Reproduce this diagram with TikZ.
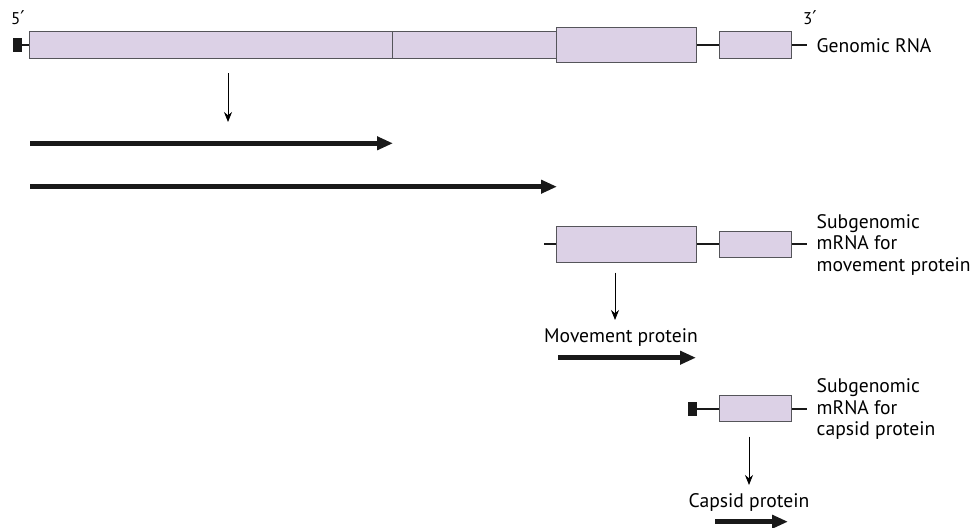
\documentclass[tikz,border=0pt]{standalone}
\usepackage{fontspec}
\setmainfont{PT Sans}
\newfontfamily\primefont{DejaVu Sans}
\newcommand{\prm}{{\primefont\fontsize{19}{19}\selectfont ′}}
\usetikzlibrary{arrows.meta}
\definecolor{boxfill}{RGB}{220,209,230}
\definecolor{boxdraw}{RGB}{85,85,90}
\definecolor{thin}{RGB}{60,60,60}
\tikzset{
  rnabox/.style={draw=boxdraw, fill=boxfill, line width=1pt, inner sep=0pt, rectangle},
  capbox/.style={fill=black!90, draw=none, inner sep=0pt, minimum width=9pt, minimum height=14pt},
  link/.style={black!90, line width=1.6pt},
  thinarrow/.style={thin, line width=0.9pt, -{Stealth[length=10pt,width=8pt]}},
  thickarrow/.style={black!90, line width=4.5pt, -{Triangle[length=16pt,width=13pt]}},
  lbl/.style={font=\fontsize{19.6}{21.5}\selectfont, inner sep=0pt, align=left},
  endlbl/.style={font=\fontsize{17}{18}\selectfont, inner sep=0pt},
}
\begin{document}
\begin{tikzpicture}[x=1pt,y=-1pt]
\useasboundingbox (0,0) rectangle (976,527);
% Genomic RNA
\node[capbox] (cap1) at (17,45) {};
\node[rnabox, minimum width=363pt, minimum height=26.5pt] (g1) at (210.5,45) {};
\node[rnabox, minimum width=165pt, minimum height=26.5pt] (g2) at (474.5,45) {};
\node[rnabox, minimum width=139.5pt, minimum height=35.5pt] (g3) at (626.5,45) {};
\node[rnabox, minimum width=72.5pt, minimum height=26.5pt] (g4) at (755.5,45) {};
\coordinate (g5) at (806.5,45);
\draw[link] (cap1.east) -- (g1.west);
\draw[link] (g3.east) -- (g4.west);
\draw[link] (g4.east) -- (g5);
\node[endlbl, anchor=west] (l5) at (11,18) {5\prm};
\node[endlbl, anchor=west] (l3) at (803,18) {3\prm};
\node[lbl, anchor=west] (lg) at (816.5,45.5) {Genomic RNA};
% translation arrow
\coordinate (t1s) at (228,73);
\coordinate (t1e) at (228,122);
\draw[thinarrow] (t1s) -- (t1e);
\coordinate (p1s) at (30,143.3);
\coordinate (p1e) at (393,143.3);
\draw[thickarrow] (p1s) -- (p1e);
\coordinate (p2s) at (30,186.7);
\coordinate (p2e) at (557,186.7);
\draw[thickarrow] (p2s) -- (p2e);
% Subgenomic mRNA for movement protein
\coordinate (m0) at (544,244);
\node[rnabox, minimum width=139.5pt, minimum height=35.5pt] (m1) at (626.5,244.5) {};
\node[rnabox, minimum width=72.5pt, minimum height=26pt] (m2) at (755.5,244.3) {};
\coordinate (m3) at (806.5,244);
\draw[link] (m0) -- (m1.west |- m0);
\draw[link] (m1.east |- m0) -- (m2.west |- m0);
\draw[link] (m2.east |- m0) -- (m3);
\node[lbl, anchor=west] (lm) at (816.5,244.5) {Subgenomic\\mRNA for\\movement protein};
\coordinate (t2s) at (615,272.7);
\coordinate (t2e) at (615,320);
\draw[thinarrow] (t2s) -- (t2e);
\node[lbl, anchor=west] (mp) at (544,338) {Movement protein};
\coordinate (p3s) at (558,357.7);
\coordinate (p3e) at (696,357.7);
\draw[thickarrow] (p3s) -- (p3e);
% Subgenomic mRNA for capsid protein
\node[capbox] (cap2) at (692.5,409) {};
\node[rnabox, minimum width=72.5pt, minimum height=26pt] (c1) at (755.5,408.7) {};
\coordinate (c2) at (806.5,409);
\draw[link] (cap2.east) -- (c1.west |- cap2);
\draw[link] (c1.east |- c2) -- (c2);
\node[lbl, anchor=west] (lc) at (816.5,409) {Subgenomic\\mRNA for\\capsid protein};
\coordinate (t3s) at (749,436.7);
\coordinate (t3e) at (749,485);
\draw[thinarrow] (t3s) -- (t3e);
\node[lbl, anchor=west] (cp) at (688.5,502) {Capsid protein};
\coordinate (p4s) at (715,521.7);
\coordinate (p4e) at (788,521.7);
\draw[thickarrow] (p4s) -- (p4e);
\end{tikzpicture}
\end{document}
